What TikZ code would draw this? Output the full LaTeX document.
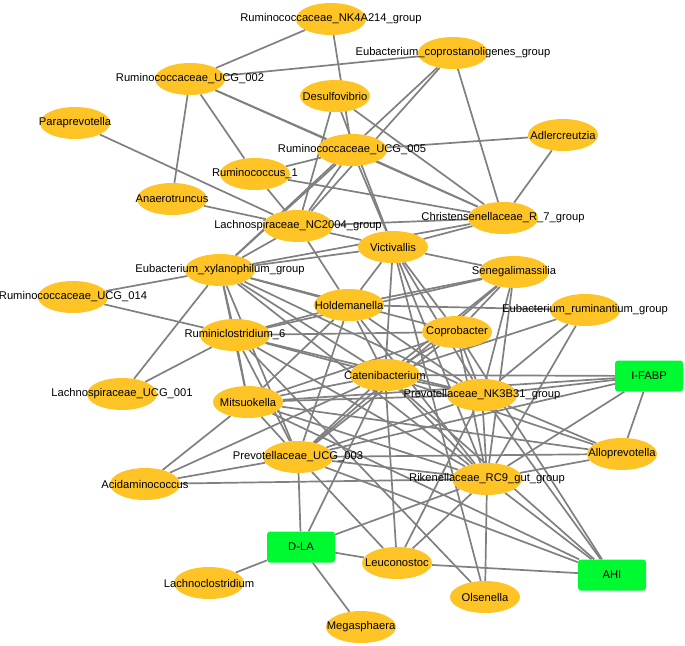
\documentclass[tikz,border=0pt]{standalone}
\usepackage{fontspec}
\setmainfont{Liberation Sans}
\usetikzlibrary{shapes.geometric,backgrounds}
\definecolor{nodeyel}{RGB}{254,196,37}
\definecolor{nodegrn}{RGB}{0,250,50}
\definecolor{edgegray}{RGB}{128,128,128}
\begin{document}
\begin{tikzpicture}[x=1pt,y=-1pt,
  every label/.style={font=\fontsize{11.2}{13}\selectfont, inner sep=0pt, text=black},
  bug/.style={ellipse, fill=nodeyel, draw=none, minimum width=70pt, minimum height=32pt, inner sep=0pt, label={center:#1}},
  marker/.style={rectangle, rounded corners=3pt, fill=nodegrn, draw=none, minimum width=68pt, minimum height=31pt, inner sep=0pt, font=\fontsize{11.2}{13}\selectfont},
  link/.style={draw=edgegray, line width=1.7pt}]
\useasboundingbox (0,0) rectangle (685,645);
% nodes
\node[bug={Ruminococcaceae\_NK4A214\_group}] (nk) at (331,19) {};
\node[bug={Eubacterium\_coprostanoligenes\_group}] (cop) at (453,53) {};
\node[bug={Ruminococcaceae\_UCG\_002}] (u002) at (190,79) {};
\node[bug={Desulfovibrio}] (des) at (335,96) {};
\node[bug={Paraprevotella}] (para) at (75,123) {};
\node[bug={Adlercreutzia}] (adl) at (563,135) {};
\node[bug={Ruminococcaceae\_UCG\_005}] (u005) at (352,150) {};
\node[bug={Ruminococcus\_1}] (r1) at (255,174) {};
\node[bug={Anaerotruncus}] (ana) at (172,199) {};
\node[bug={Christensenellaceae\_R\_7\_group}] (chr) at (503,218) {};
\node[bug={Lachnospiraceae\_NC2004\_group}] (nc) at (298,226) {};
\node[bug={Victivallis}] (vic) at (393,247) {};
\node[bug={Eubacterium\_xylanophilum\_group}] (xyl) at (220,270) {};
\node[bug={Senegalimassilia}] (sen) at (514,272) {};
\node[bug={Ruminococcaceae\_UCG\_014}] (u014) at (73,297) {};
\node[bug={Holdemanella}] (hol) at (349,305) {};
\node[bug={Eubacterium\_ruminantium\_group}] (rum) at (585,310) {};
\node[bug={Ruminiclostridium\_6}] (r6) at (235,335) {};
\node[bug={Coprobacter}] (copb) at (457,332) {};
\node[bug={Catenibacterium}] (cat) at (385,375) {};
\node[marker] (ifabp) at (649,376) {I-FABP};
\node[bug={Prevotellaceae\_NK3B31\_group}] (nk3) at (482,395) {};
\node[bug={Lachnospiraceae\_UCG\_001}] (l001) at (122,394) {};
\node[bug={Mitsuokella}] (mit) at (248,402) {};
\node[bug={Prevotellaceae\_UCG\_003}] (p003) at (298,457) {};
\node[bug={Alloprevotella}] (allo) at (622,454) {};
\node[bug={Acidaminococcus}] (acid) at (145,484) {};
\node[bug={Rikenellaceae\_RC9\_gut\_group}] (rik) at (487,479) {};
\node[marker] (dla) at (301,547) {D-LA};
\node[bug={Leuconostoc}] (leu) at (397,563) {};
\node[marker] (ahi) at (612,575) {AHI};
\node[bug={Lachnoclostridium}] (lachc) at (209,583) {};
\node[bug={Olsenella}] (ols) at (485,597) {};
\node[bug={Megasphaera}] (meg) at (361,627) {};
% edges
\begin{pgfonlayer}{background}
\foreach \a/\b in {nk/u002, nk/u005, u002/cop, u002/u005, u002/chr, u002/r1, u002/ana,
  cop/chr, cop/nc, cop/xyl, des/nc, des/vic, des/chr, u005/adl, adl/chr,
  r1/u005, r1/nc, r1/chr, para/nc, ana/nc, u005/nc, u005/xyl, u005/vic, u005/chr,
  nc/chr, nc/vic, nc/hol, nc/xyl, xyl/chr, xyl/vic, xyl/u014, xyl/l001, xyl/r6,
  xyl/mit, xyl/p003, xyl/hol, xyl/cat, xyl/copb, xyl/nk3, xyl/rik,
  vic/chr, vic/sen, vic/hol, vic/cat, vic/copb, vic/nk3, vic/rik, vic/ols,
  u014/r6, l001/r6, r6/hol, r6/sen, r6/cat, r6/nk3, r6/mit, r6/p003, r6/copb, r6/rik,
  hol/sen, hol/rum, hol/cat, hol/nk3, hol/rik, hol/p003, hol/mit,
  sen/copb, sen/cat, sen/p003, sen/nk3, sen/rik,
  rum/cat, rum/rik, rum/nk3,
  copb/cat, copb/p003, copb/mit, copb/nk3, copb/rik, copb/ahi,
  cat/ifabp, cat/nk3, cat/mit, cat/p003, cat/rik, cat/acid, cat/leu, cat/allo, cat/dla, cat/ahi,
  nk3/ifabp, nk3/mit, nk3/p003, nk3/rik, nk3/allo, nk3/ahi, nk3/leu,
  ifabp/p003, ifabp/rik, ifabp/allo, ifabp/mit,
  mit/p003, mit/rik, mit/acid, mit/allo, mit/ahi,
  p003/allo, p003/acid, p003/rik, p003/dla, p003/leu, p003/ahi,
  rik/allo, rik/acid, rik/dla, rik/leu, rik/ols, rik/ahi,
  dla/leu, dla/lachc, dla/meg, leu/ahi, ols/r6}
  \draw[link] (\a) -- (\b);
\end{pgfonlayer}
\end{tikzpicture}
\end{document}
